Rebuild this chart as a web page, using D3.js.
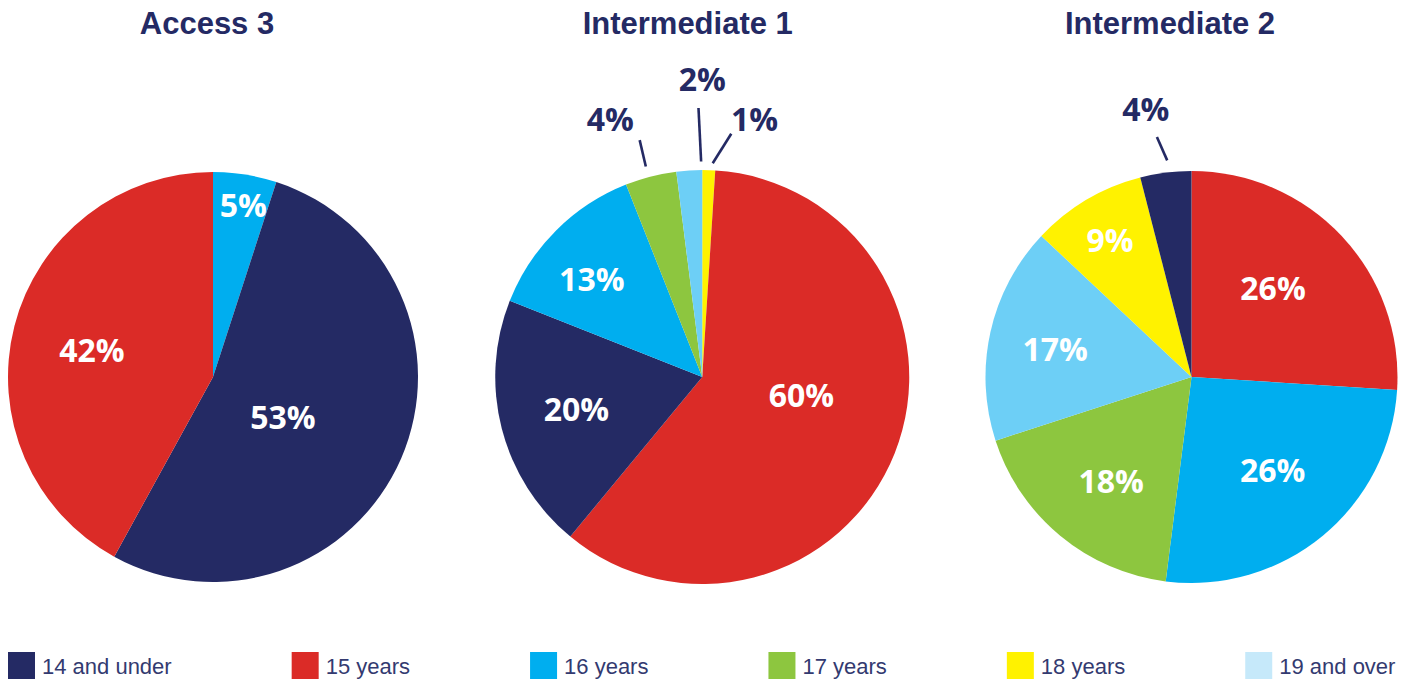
<!DOCTYPE html>
<html>
<head>
<meta charset="utf-8">
<script src="https://cdn.jsdelivr.net/npm/d3@7"></script>
<style>
  html, body { margin: 0; padding: 0; background: #ffffff; }
  svg { display: block; }
</style>
</head>
<body>
<svg id="chart" width="1405" height="681"></svg>
<script>
// Age groups shown in the legend
const categories = ["14 and under", "15 years", "16 years", "17 years", "18 years", "19 and over"];

// Qualification levels, one pie each
const levels = ["Access 3", "Intermediate 1", "Intermediate 2"];

// Slices of each pie, in clockwise order from 12 o'clock
const access3Groups = ["16 years", "14 and under", "15 years"];
const access3Values = [5, 53, 42];

const intermediate1Groups = ["18 years", "15 years", "14 and under", "16 years", "17 years", "19 and over"];
const intermediate1Values = [1, 60, 20, 13, 4, 2];

const intermediate2Groups = ["15 years", "16 years", "17 years", "19 and over", "18 years", "14 and under"];
const intermediate2Values = [26, 26, 18, 17, 9, 4];

// Colours
const sliceColours = {
  "14 and under": "#242a64",
  "15 years": "#db2b27",
  "16 years": "#00aeef",
  "17 years": "#8dc63f",
  "18 years": "#fff200",
  "19 and over": "#6dcff6"
};
const legendColours = {
  "14 and under": "#242a64",
  "15 years": "#db2b27",
  "16 years": "#00aeef",
  "17 years": "#8dc63f",
  "18 years": "#fff200",
  "19 and over": "#c6e9fa"
};
const navy = "#242a64";

// Label placement per pie: inner labels sit at radius r (angle nudged by da degrees);
// outer labels get a leader line from (da1, r1) to (da2, r2) and text at (da, r).
const labelLayout = [
  { titleDx: -6, radius: 205, slices: [
    { r: 174, da: 1 }, { r: 81, da: 7 }, { r: 124, da: -2 }
  ]},
  { titleDx: -14.5, radius: 207, slices: [
    { outer: true, da1: 1, r1: 214, da2: 5, r2: 245, da: 9.7, r: 262 },
    { r: 101, da: -10.8 },
    { r: 130, da: 0 },
    { r: 147, da: -3.7 },
    { outer: true, da1: -0.6, r1: 218, da2: -0.4, r2: 245, da: -5.3, r: 273 },
    { outer: true, da1: 3.3, r1: 215.5, da2: 2.8, r2: 269, da: 3.6, r: 297 }
  ]},
  { titleDx: -21.5, radius: 206, slices: [
    { r: 120, da: -4 }, { r: 124, da: -1.3 }, { r: 132, da: -2.1 },
    { r: 139, da: -1.4 }, { r: 158.5, da: -0.3 },
    { outer: true, da1: 0.8, r1: 218, da2: -1, r2: 242.5, da: -2.5, r: 271 }
  ]}
];

const pieData = [
  { groups: access3Groups, values: access3Values },
  { groups: intermediate1Groups, values: intermediate1Values },
  { groups: intermediate2Groups, values: intermediate2Values }
];

const svg = d3.select("#chart");
const centreY = 377;

const x = d3.scalePoint().domain(levels).range([213, 1191.5]);

const pie = d3.pie().sort(null).value(d => d.value);
const rad = deg => deg * Math.PI / 180;

levels.forEach((level, i) => {
  const layout = labelLayout[i];
  const cx = x(level);
  const slices = pie(pieData[i].groups.map((g, j) => ({ group: g, value: pieData[i].values[j] })));
  const arc = d3.arc().innerRadius(0).outerRadius(layout.radius);

  // Title
  svg.append("text")
    .attr("x", cx + layout.titleDx)
    .attr("y", 34)
    .attr("text-anchor", "middle")
    .attr("font-family", "'Liberation Sans', Arial, sans-serif")
    .attr("font-weight", 700)
    .attr("font-size", 31)
    .attr("fill", navy)
    .text(level);

  const g = svg.append("g").attr("transform", `translate(${cx},${centreY})`);

  g.selectAll("path")
    .data(slices)
    .join("path")
    .attr("d", arc)
    .attr("fill", d => sliceColours[d.data.group]);

  slices.forEach((s, j) => {
    const L = layout.slices[j];
    const mid = (s.startAngle + s.endAngle) / 2;
    if (L.outer) {
      const p1 = d3.pointRadial(mid + rad(L.da1), L.r1);
      const p2 = d3.pointRadial(mid + rad(L.da2), L.r2);
      g.append("line")
        .attr("x1", p1[0]).attr("y1", p1[1])
        .attr("x2", p2[0]).attr("y2", p2[1])
        .attr("stroke", navy)
        .attr("stroke-width", 2.6);
    }
    const p = d3.pointRadial(mid + rad(L.da), L.r);
    g.append("text")
      .attr("x", p[0])
      .attr("y", p[1])
      .attr("dy", "0.35em")
      .attr("text-anchor", "middle")
      .attr("font-family", "'Open Sans', sans-serif")
      .attr("font-weight", 700)
      .attr("font-size", 32)
      .attr("fill", L.outer ? navy : "#ffffff")
      .text(s.data.value + "%");
  });
});

// Legend: swatch, label, then a fixed gap before the next item
const legend = svg.append("g").attr("transform", "translate(8,652)");
let lx = 0;
categories.forEach(c => {
  const item = legend.append("g").attr("transform", `translate(${lx},0)`);
  item.append("rect")
    .attr("width", 27).attr("height", 27)
    .attr("fill", legendColours[c]);
  const t = item.append("text")
    .attr("x", 34)
    .attr("y", 22)
    .attr("font-family", "'Liberation Sans', Arial, sans-serif")
    .attr("font-size", 22)
    .attr("fill", "#333a70")
    .text(c);
  lx += 34 + t.node().getComputedTextLength() + 120;
});
</script>
</body>
</html>
